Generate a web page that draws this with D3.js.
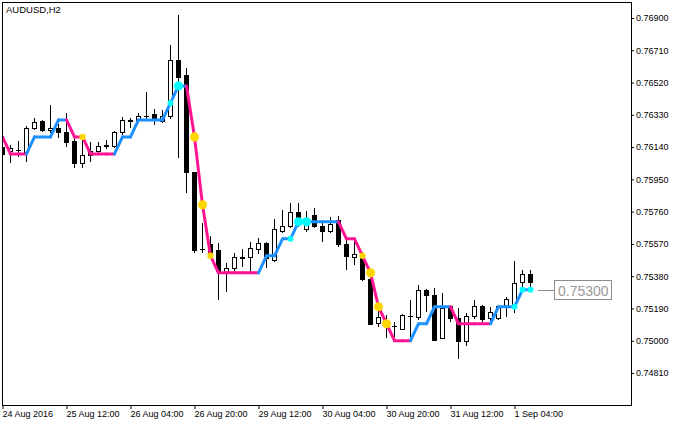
<!DOCTYPE html>
<html><head><meta charset="utf-8">
<script src="https://cdn.jsdelivr.net/npm/d3@7"></script>
<style>
body{margin:0;background:#fff}
svg{display:block}
text{font-family:"Liberation Sans",Arial,sans-serif}
</style>
</head><body>
<svg id="c" width="682" height="425"></svg>
<script>
const title = "AUDUSD,H2";
const xTickIdx = [0, 8, 16, 24, 32, 40, 48, 56, 64];
const xTickLabels = ["24 Aug 2016","25 Aug 12:00","26 Aug 04:00","26 Aug 20:00","29 Aug 12:00","30 Aug 04:00","30 Aug 20:00","31 Aug 12:00","1 Sep 04:00"];
const yTicks = [0.769, 0.7671, 0.7652, 0.7633, 0.7614, 0.7595, 0.7576, 0.7557, 0.7538, 0.7519, 0.75, 0.7481];

const open = [
0.76136,0.76114,0.76117,0.76111,0.76251,0.76290,0.76239,0.76251,0.76223,0.76172,
0.76045,0.76093,0.76113,0.76146,0.76142,0.76227,0.76291,0.76294,0.76320,0.76329,
0.76290,0.76323,0.76647,0.76559,0.75992,0.75537,0.75567,0.75530,0.75397,0.75426,
0.75487,0.75491,0.75540,0.75574,0.75475,0.75642,0.75671,0.75756,0.75652,0.75740,
0.75671,0.75642,0.75705,0.75568,0.75491,0.75505,0.75363,0.75103,0.75122,0.75081,
0.75069,0.75140,0.75138,0.75293,0.75269,0.75014,0.75200,0.75132,0.74998,0.75142,
0.75200,0.75128,0.75128,0.75200,0.75200,0.75344,0.75391];
const high = [
0.76158,0.76152,0.76176,0.76264,0.76310,0.76297,0.76388,0.76274,0.76341,0.76201,
0.76192,0.76172,0.76172,0.76182,0.76235,0.76319,0.76313,0.76339,0.76466,0.76363,
0.76358,0.76741,0.76918,0.76604,0.75993,0.75691,0.75614,0.75574,0.75456,0.75518,
0.75538,0.75583,0.75607,0.75581,0.75717,0.75770,0.75809,0.75809,0.75764,0.75783,
0.75701,0.75730,0.75736,0.75603,0.75603,0.75524,0.75403,0.75175,0.75152,0.75112,
0.75156,0.75240,0.75328,0.75305,0.75309,0.75279,0.75210,0.75191,0.75162,0.75240,
0.75210,0.75200,0.75210,0.75259,0.75469,0.75416,0.75416];
const low = [
0.76076,0.76046,0.76082,0.76052,0.76241,0.76231,0.76221,0.76192,0.76142,0.76015,
0.76015,0.76054,0.76104,0.76129,0.76133,0.76211,0.76251,0.76280,0.76300,0.76270,
0.76284,0.76304,0.76074,0.75868,0.75515,0.75515,0.75505,0.75240,0.75289,0.75412,
0.75436,0.75403,0.75509,0.75426,0.75465,0.75632,0.75662,0.75671,0.75642,0.75662,
0.75583,0.75632,0.75554,0.75416,0.75446,0.75352,0.75093,0.75083,0.75016,0.75024,
0.75063,0.75024,0.75122,0.75171,0.74998,0.75010,0.75112,0.74892,0.74971,0.75128,
0.75112,0.75112,0.75122,0.75142,0.75162,0.75318,0.75318];
const close = [
0.76098,0.76129,0.76121,0.76251,0.76286,0.76237,0.76251,0.76227,0.76168,0.76045,
0.76093,0.76113,0.76142,0.76149,0.76227,0.76294,0.76294,0.76319,0.76323,0.76310,
0.76323,0.76647,0.76549,0.75989,0.75530,0.75540,0.75522,0.75406,0.75426,0.75491,
0.75490,0.75544,0.75574,0.75485,0.75652,0.75671,0.75756,0.75699,0.75721,0.75671,
0.75642,0.75686,0.75564,0.75495,0.75505,0.75358,0.75097,0.75136,0.75087,0.75084,
0.75146,0.75143,0.75293,0.75269,0.75004,0.75191,0.75132,0.74994,0.75142,0.75200,
0.75126,0.75167,0.75200,0.75244,0.75338,0.75391,0.75344];

// indicator line values and trend (1 = up/blue, -1 = down/pink)
const lineVals = [
0.762,0.761,0.761,0.761,0.762,0.762,0.762,0.763,0.763,0.762,
0.762,0.761,0.761,0.761,0.761,0.762,0.762,0.763,0.763,0.763,
0.763,0.764,0.765,0.765,0.762,0.758,0.755,0.754,0.754,0.754,
0.754,0.754,0.754,0.755,0.755,0.756,0.756,0.757,0.757,0.757,
0.757,0.757,0.757,0.756,0.756,0.755,0.754,0.752,0.751,0.750,
0.750,0.750,0.751,0.751,0.752,0.752,0.752,0.751,0.751,0.751,
0.751,0.751,0.752,0.752,0.752,0.753,0.753];
const trend = [
-1,-1,-1,-1,1,1,1,1,1,-1,
-1,-1,-1,-1,-1,1,1,1,1,1,
1,1,1,1,-1,-1,-1,-1,-1,-1,
-1,-1,-1,1,1,1,1,1,1,1,
1,1,1,-1,-1,-1,-1,-1,-1,-1,
-1,-1,1,1,1,1,1,-1,-1,-1,
-1,-1,1,1,1,1,1];
const goldBig = [24, 25, 46, 47, 48];
const goldSmall = [10, 26, 45];
const cyanBig = [22, 37, 38];
const cyanSmall = [21, 36, 64, 65, 66];
const lastLabel = "0.75300";

const svg = d3.select("#c");
svg.append("rect").attr("width",682).attr("height",425).attr("fill","#fff");

const x = d3.scaleLinear().domain([0, 66]).range([2.5, 530.5]);
const y = d3.scaleLinear().domain([0.7481, 0.769]).range([373, 18]);

svg.append("defs").append("clipPath").attr("id","pc")
  .append("rect").attr("x",3).attr("y",3).attr("width",628).attr("height",402);

const plot = svg.append("g").attr("clip-path","url(#pc)");
const bars = d3.range(open.length);

// wicks
plot.append("g").selectAll("line").data(bars).join("line")
  .attr("x1", d => x(d)).attr("x2", d => x(d))
  .attr("y1", d => y(high[d])).attr("y2", d => y(low[d]))
  .attr("stroke","#000").attr("stroke-width",1).attr("shape-rendering","crispEdges");

// bodies
plot.append("g").selectAll("rect").data(bars).join("rect")
  .attr("shape-rendering","crispEdges")
  .each(function(d){
    const bull = close[d] >= open[d];
    const top = y(Math.max(open[d], close[d]));
    const bot = y(Math.min(open[d], close[d]));
    const h = Math.max(bot - top, 0);
    const s = d3.select(this);
    if (bull) {
      s.attr("x", x(d)-2).attr("width",4).attr("y", top).attr("height", Math.max(h,0.5))
       .attr("fill","#fff").attr("stroke","#000").attr("stroke-width",1);
    } else {
      s.attr("x", x(d)-2.5).attr("width",5).attr("y", top-0.5).attr("height", Math.max(h+1,1))
       .attr("fill","#000");
    }
  });

// indicator segments
const segColor = t => t > 0 ? "#1E90FF" : "#FF1493";
plot.append("g").selectAll("line").data(d3.range(1, lineVals.length)).join("line")
  .attr("x1", d => x(d-1)).attr("y1", d => y(lineVals[d-1]))
  .attr("x2", d => x(d)).attr("y2", d => y(lineVals[d]))
  .attr("stroke", d => segColor(trend[d]))
  .attr("stroke-width",3).attr("stroke-linecap","round");

// dots
function dots(idx, r, color){
  plot.append("g").selectAll("circle").data(idx).join("circle")
    .attr("cx", d => x(d)).attr("cy", d => y(lineVals[d])).attr("r", r).attr("fill", color);
}
dots(goldSmall, 3.2, "#FFD700");
dots(goldBig, 4.6, "#FFD700");
dots(cyanSmall, 3.0, "#00FFFF");
dots(cyanBig, 4.6, "#00FFFF");

// frame
svg.append("rect").attr("x",2.5).attr("y",2.5).attr("width",629).attr("height",403)
  .attr("fill","none").attr("stroke","#000").attr("stroke-width",1);

// y axis
const yAxis = d3.axisRight(y).tickValues(yTicks).tickFormat(d3.format(".5f")).tickSize(3).tickPadding(2);
const gy = svg.append("g").attr("transform","translate(631,0)").call(yAxis);
gy.select(".domain").remove();
gy.selectAll("text").attr("font-size",9).attr("font-family","Liberation Sans, Arial, sans-serif").attr("fill","#000");
gy.selectAll("line").attr("stroke","#000");

// x axis
const xAxis = d3.axisBottom(x).tickValues(xTickIdx).tickFormat((d,i) => xTickLabels[i]).tickSize(4).tickPadding(2);
const gx = svg.append("g").attr("transform","translate(0,405)").call(xAxis);
gx.select(".domain").remove();
gx.selectAll("text").attr("text-anchor","start").attr("dx",-0.5).attr("font-size",9)
  .attr("font-family","Liberation Sans, Arial, sans-serif").attr("fill","#000");
gx.selectAll("line").attr("stroke","#000");

// title
svg.append("text").attr("x",6).attr("y",13).attr("font-size",9.5).attr("fill","#000").text(title);

// last value label
const ly = Math.round(y(lineVals[lineVals.length-1])) + 0.5;
svg.append("line").attr("x1",538).attr("x2",554.5).attr("y1",ly).attr("y2",ly)
  .attr("stroke","#8c8c8c").attr("stroke-width",1);
svg.append("rect").attr("x",554.5).attr("y",ly-10).attr("width",57).attr("height",19)
  .attr("fill","#fff").attr("stroke","#8c8c8c").attr("stroke-width",1);
svg.append("text").attr("x",558).attr("y",ly+5).attr("font-size",14).attr("fill","#9a9a9a").text(lastLabel);
</script>
</body></html>
